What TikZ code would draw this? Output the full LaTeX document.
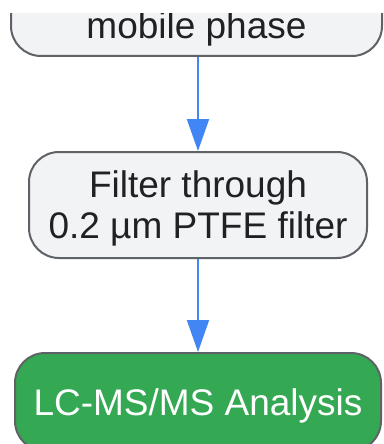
\documentclass[tikz,border=0pt]{standalone}
\usepackage{fontspec}
\setmainfont{Liberation Sans}
\usetikzlibrary{arrows.meta}
\definecolor{boxfill}{HTML}{F1F3F4}
\definecolor{boxline}{HTML}{5F6368}
\definecolor{boxtext}{HTML}{202124}
\definecolor{flowblue}{HTML}{4285F4}
\definecolor{analysisgreen}{HTML}{34A853}

\begin{document}
\begin{tikzpicture}[x=1pt, y=-1pt, line width=2pt]
		
		\tikzset{
			steptext/.style={font=\fontsize{37}{41}\selectfont, text=boxtext, inner sep=0pt},
			stepbox/.style={steptext, draw=boxline, fill=boxfill, rounded corners=30pt, align=center, text depth=0pt},
			finalbox/.style={stepbox, fill=analysisgreen, text=white},
			flowarrow/.style={draw=flowblue, -{Triangle[length=32pt, width=22pt]}},
		}
		
		\useasboundingbox (0,0) rectangle (383,444);
		\clip (0,14) rectangle (383,444);
		
		\node [stepbox, minimum width=371pt, minimum height=116pt] (prep) at (196.5,-2) {};
		\node [steptext, anchor=base] (preplabel) at (196.5,38) {mobile phase};
		
		\node [stepbox, minimum width=338pt, minimum height=106pt] (filter) at (198,205) {Filter through\\0.2 µm PTFE filter};
		
		\node [finalbox, minimum width=366pt, minimum height=98pt] (analysis) at (198,402) {LC-MS/MS Analysis};
		
		\draw [flowarrow] (filter.north |- prep.south) -- (filter.north);
		\draw [flowarrow] (filter.south) -- (analysis.north);
		
\end{tikzpicture}
\end{document}
